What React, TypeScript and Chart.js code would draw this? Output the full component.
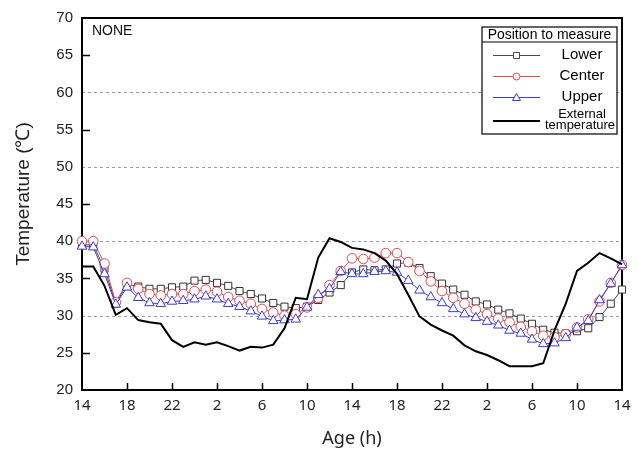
import React, { useEffect, useRef } from 'react';
import { Chart, registerables } from 'chart.js';

Chart.register(...registerables);

// Clock hour of each hourly sample (48 h, starting at 14 h)
const hours: string[] = [
  '14', '15', '16', '17', '18', '19', '20', '21', '22', '23',
  '0', '1', '2', '3', '4', '5', '6', '7', '8', '9', '10', '11', '12', '13',
  '14', '15', '16', '17', '18', '19', '20', '21', '22', '23',
  '0', '1', '2', '3', '4', '5', '6', '7', '8', '9', '10', '11', '12', '13', '14',
];

const lower: number[] = [
  39.5, 39.5, 36.3, 31.6, 34.2, 33.9, 33.6, 33.6, 33.8, 33.9,
  34.7, 34.8, 34.4, 34.0, 33.3, 32.9, 32.3, 31.7, 31.2, 31.0,
  31.2, 32.1, 33.1, 34.1, 35.8, 36.2, 36.1, 36.2, 37.0, 37.1,
  36.4, 35.3, 34.3, 33.5, 32.8, 31.9, 31.5, 30.8, 30.3, 29.6,
  28.9, 28.1, 27.7, 27.6, 27.9, 28.3, 29.8, 31.6, 33.5,
];

const center: number[] = [
  40.0, 40.0, 37.0, 31.8, 34.4, 33.6, 32.9, 32.7, 32.9, 32.9,
  33.3, 33.5, 33.2, 32.5, 32.0, 31.6, 30.9, 30.4, 30.0, 30.2,
  31.1, 32.4, 34.1, 36.0, 37.7, 37.6, 37.8, 38.4, 38.4, 37.2,
  36.0, 34.6, 33.3, 32.4, 31.6, 30.8, 30.2, 29.6, 29.1, 28.5,
  27.9, 27.3, 27.1, 27.5, 28.4, 29.5, 31.9, 34.4, 36.8,
];

const upper: number[] = [
  39.3, 39.2, 35.6, 31.5, 33.8, 32.4, 31.7, 31.6, 31.9, 32.0,
  32.2, 32.6, 32.2, 31.6, 31.2, 30.6, 29.9, 29.3, 29.4, 29.5,
  31.1, 32.8, 33.6, 35.9, 35.6, 35.6, 35.9, 36.0, 35.8, 34.7,
  33.4, 32.5, 31.7, 30.9, 30.2, 29.7, 29.2, 28.7, 28.0, 27.6,
  26.8, 26.2, 26.3, 27.0, 28.4, 29.3, 32.1, 34.3, 36.8,
];

const external: number[] = [
  36.6, 36.6, 34.0, 30.1, 31.0, 29.4, 29.1, 28.9, 26.7, 25.8,
  26.4, 26.1, 26.4, 25.9, 25.3, 25.8, 25.7, 26.1, 28.3, 32.4,
  32.2, 37.8, 40.4, 39.9, 39.1, 38.9, 38.4, 37.4, 35.6, 32.8,
  29.9, 28.8, 28.0, 27.3, 26.0, 25.2, 24.7, 24.0, 23.2, 23.2,
  23.2, 23.6, 28.0, 31.6, 36.0, 37.1, 38.4, 37.7, 36.9,
];

const seriesNames: string[] = ['Lower', 'Center', 'Upper', 'External temperature'];
const legendTitle = 'Position to measure';
const panelLabel = 'NONE';
const yTitle = 'Temperature (℃)';
const xTitle = 'Age (h)';
const dashedGridValues: number[] = [30, 40, 50, 60];
const minorTickValues: number[] = [25, 35, 45, 55, 65];

const LOWER_COLOR = '#4a4a4a';
const CENTER_COLOR = '#e8474a';
const UPPER_COLOR = '#3a3ad6';

const decorPlugin = {
  id: 'decor',
  beforeDatasetsDraw(chart: any) {
    const { ctx, chartArea: a, scales } = chart;
    const x = scales.x;
    const y = scales.y;
    ctx.save();
    ctx.strokeStyle = '#9c9c9c';
    ctx.lineWidth = 1;
    ctx.setLineDash([3, 3]);
    for (const v of dashedGridValues) {
      const py = Math.round(y.getPixelForValue(v)) + 0.5;
      ctx.beginPath();
      ctx.moveTo(a.left, py);
      ctx.lineTo(a.right, py);
      ctx.stroke();
    }
    ctx.setLineDash([]);
    ctx.strokeStyle = '#000';
    ctx.lineWidth = 1.5;
    for (const v of minorTickValues) {
      const py = Math.round(y.getPixelForValue(v)) + 0.5;
      ctx.beginPath();
      ctx.moveTo(a.left, py);
      ctx.lineTo(a.left + 8, py);
      ctx.stroke();
    }
    for (let i = 4; i < hours.length - 1; i += 4) {
      const px = Math.round(x.getPixelForValue(i)) + 0.5;
      ctx.beginPath();
      ctx.moveTo(px, a.bottom);
      ctx.lineTo(px, a.bottom - 7);
      ctx.stroke();
    }
    ctx.lineWidth = 2;
    ctx.strokeRect(a.left, a.top, a.right - a.left, a.bottom - a.top);

    // y axis title
    ctx.save();
    ctx.translate(24, (a.top + a.bottom) / 2 - 10);
    ctx.rotate(-Math.PI / 2);
    ctx.fillStyle = '#222';
    ctx.font = '19px "Liberation Sans", Arial, sans-serif';
    ctx.textAlign = 'center';
    ctx.textBaseline = 'middle';
    ctx.fillText(yTitle, 0, 0);
    ctx.restore();
    ctx.restore();
  },
  afterDatasetsDraw(chart: any) {
    const { ctx, chartArea: a } = chart;
    ctx.save();
    // panel label
    ctx.fillStyle = '#111';
    ctx.font = '14px "Liberation Sans", Arial, sans-serif';
    ctx.textAlign = 'left';
    ctx.textBaseline = 'middle';
    ctx.fillText(panelLabel, a.left + 10, a.top + 13);

    // legend box
    const bx = a.right - 140;
    const by = a.top + 9;
    const bw = 135;
    const bh = 107;
    ctx.fillStyle = '#fff';
    ctx.fillRect(bx, by, bw, bh);
    ctx.strokeStyle = '#000';
    ctx.lineWidth = 1.2;
    ctx.strokeRect(bx, by, bw, bh);
    ctx.beginPath();
    ctx.moveTo(bx, by + 15);
    ctx.lineTo(bx + bw, by + 15);
    ctx.stroke();
    ctx.fillStyle = '#000';
    ctx.font = '14px "Liberation Sans", Arial, sans-serif';
    ctx.textAlign = 'center';
    ctx.fillText(legendTitle, bx + bw / 2, by + 8);

    const lx0 = bx + 11;
    const lx1 = bx + 58;
    const lmx = (lx0 + lx1) / 2;
    const tx = bx + 100;
    const rows = [
      { y: by + 28, color: LOWER_COLOR, marker: 'rect' },
      { y: by + 49, color: CENTER_COLOR, marker: 'circle' },
      { y: by + 70, color: UPPER_COLOR, marker: 'triangle' },
    ];
    rows.forEach((r, i) => {
      ctx.strokeStyle = r.color;
      ctx.lineWidth = 1;
      ctx.beginPath();
      ctx.moveTo(lx0, r.y + 0.5);
      ctx.lineTo(lx1, r.y + 0.5);
      ctx.stroke();
      ctx.fillStyle = '#fff';
      ctx.beginPath();
      if (r.marker === 'rect') {
        ctx.rect(lmx - 3, r.y - 2.5, 6, 6);
      } else if (r.marker === 'circle') {
        ctx.arc(lmx, r.y + 0.5, 3.5, 0, Math.PI * 2);
      } else {
        ctx.moveTo(lmx, r.y - 3.5);
        ctx.lineTo(lmx + 4, r.y + 3.5);
        ctx.lineTo(lmx - 4, r.y + 3.5);
        ctx.closePath();
      }
      ctx.fill();
      ctx.stroke();
      ctx.fillStyle = '#000';
      ctx.font = '15px "Liberation Sans", Arial, sans-serif';
      ctx.fillText(seriesNames[i], tx, r.y);
    });
    ctx.strokeStyle = '#000';
    ctx.lineWidth = 2;
    ctx.beginPath();
    ctx.moveTo(lx0, by + 94);
    ctx.lineTo(lx1, by + 94);
    ctx.stroke();
    const parts = seriesNames[3].split(' ');
    ctx.font = '13px "Liberation Sans", Arial, sans-serif';
    ctx.fillText(parts[0], tx, by + 87);
    ctx.fillText(parts[1], tx - 2, by + 98);
    ctx.restore();
  },
};

export default function App() {
  const canvasRef = useRef<HTMLCanvasElement | null>(null);

  useEffect(() => {
    if (!canvasRef.current) return;
    const chart = new Chart(canvasRef.current, {
      type: 'line',
      data: {
        labels: hours,
        datasets: [
          {
            label: seriesNames[0],
            data: lower,
            borderColor: LOWER_COLOR,
            backgroundColor: '#fff',
            pointBorderColor: '#333',
            borderWidth: 1,
            pointStyle: 'rect',
            pointRadius: 5,
            pointBorderWidth: 1,
            order: 3,
          },
          {
            label: seriesNames[1],
            data: center,
            borderColor: CENTER_COLOR,
            backgroundColor: '#fff',
            borderWidth: 1,
            pointStyle: 'circle',
            pointRadius: 4.8,
            pointBorderWidth: 1,
            order: 2,
          },
          {
            label: seriesNames[2],
            data: upper,
            borderColor: UPPER_COLOR,
            backgroundColor: '#fff',
            borderWidth: 1,
            pointStyle: 'triangle',
            pointRadius: 5.5,
            pointBorderWidth: 1,
            order: 1,
          },
          {
            label: seriesNames[3],
            data: external,
            borderColor: '#000',
            borderWidth: 2,
            pointRadius: 0,
            order: 0,
          },
        ],
      },
      options: {
        animation: false,
        responsive: true,
        maintainAspectRatio: false,
        layout: { padding: { top: 14, right: 16, left: 0, bottom: 0 } },
        plugins: {
          legend: { display: false },
          tooltip: { enabled: false },
        },
        elements: { line: { tension: 0 } },
        scales: {
          x: {
            type: 'category',
            offset: false,
            grid: { display: false, drawTicks: false },
            border: { display: false },
            ticks: {
              autoSkip: false,
              maxRotation: 0,
              padding: 7,
              color: '#222',
              font: { family: '"Noto Sans", sans-serif', size: 15 },
              callback: (_v: any, i: number) => (i % 4 === 0 ? hours[i] : null),
            },
            title: {
              display: true,
              text: xTitle,
              color: '#222',
              font: { family: '"Noto Sans", sans-serif', size: 18 },
              padding: { top: 0, bottom: 2 },
            },
            afterFit: (s: any) => {
              s.height = 62;
            },
          },
          y: {
            min: 20,
            max: 70,
            grid: { display: false, drawTicks: false },
            border: { display: false },
            ticks: {
              stepSize: 5,
              padding: 9,
              color: '#222',
              font: { family: '"Liberation Sans", Arial, sans-serif', size: 15 },
            },
            title: { display: false },
            afterFit: (s: any) => {
              s.width = 82;
            },
          },
        },
      },
      plugins: [decorPlugin],
    });
    return () => chart.destroy();
  }, []);

  return (
    <div style={{ position: 'absolute', left: 0, top: 0, width: 638, height: 452, background: '#fff' }}>
      <canvas ref={canvasRef} />
    </div>
  );
}
